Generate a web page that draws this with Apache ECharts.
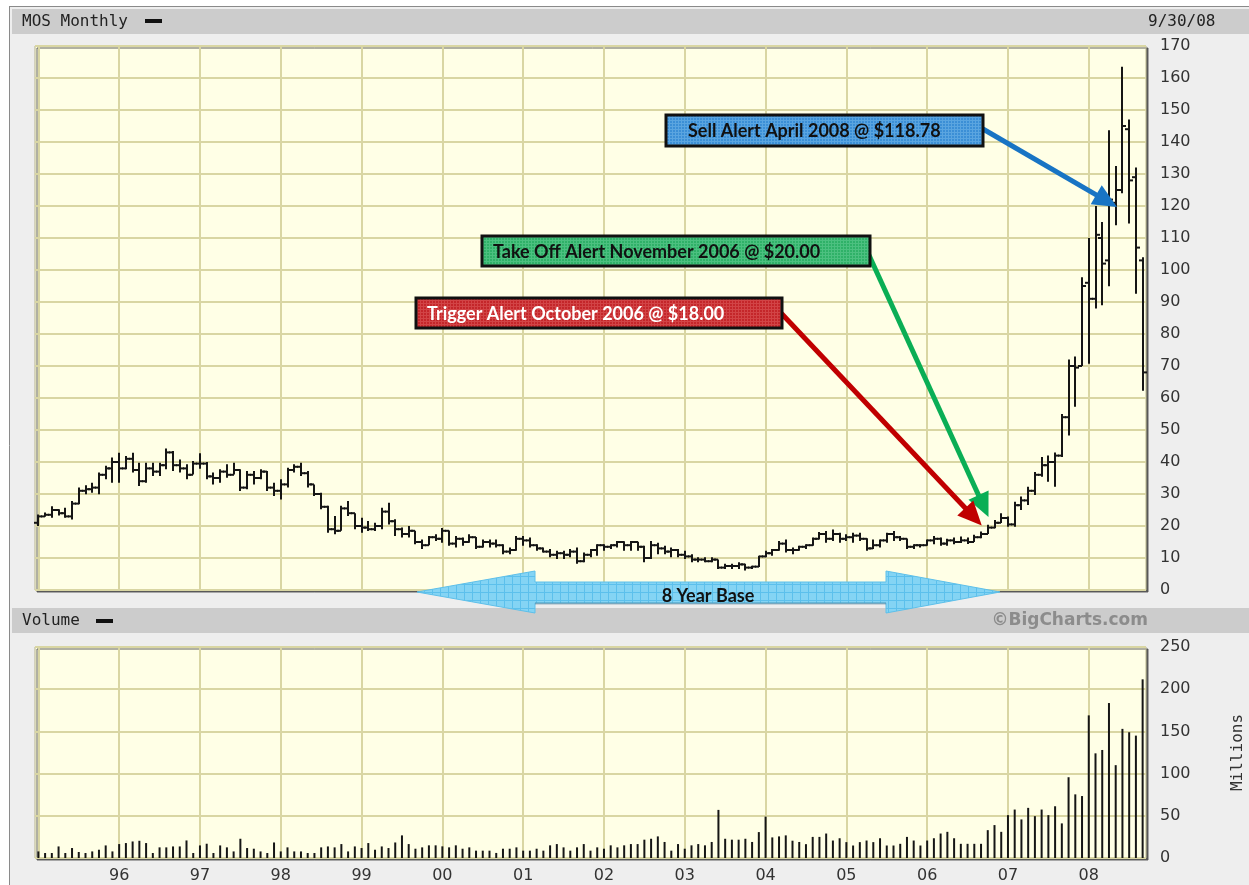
<!DOCTYPE html>
<html>
<head>
<meta charset="utf-8">
<title>MOS Monthly</title>
<script src="https://cdn.jsdelivr.net/npm/echarts@6/dist/echarts.min.js"></script>
<style>
html, body { margin: 0; padding: 0; background: #eeeeee; }
#chart { width: 1249px; height: 885px; }
</style>
</head>
<body>
<div id="chart"></div>
<script>
// month categories, Jan 1995 .. Sep 2008
var months = [];
for (var yr = 1995; yr <= 2008; yr++) {
	for (var mo = 1; mo <= 12; mo++) {
		if (yr === 2008 && mo > 9) break;
		months.push(yr + '-' + (mo < 10 ? '0' + mo : mo));
	}
}

// monthly OHLC, one row per year
var openPrices = [
	21, 23, 23.5, 25, 24, 23, 27, 31, 31.5, 32, 36, 38,
	40, 38, 41, 37.5, 34, 38, 37, 39, 43, 39, 38, 36,
	39.5, 39.5, 35.5, 35, 37, 36, 37.5, 32, 36, 35, 37, 32,
	31, 33, 37.5, 38.5, 36.5, 33, 30, 26, 19, 18.5, 25.5, 24,
	20, 19.5, 19, 20, 24.5, 21.5, 19, 17.5, 18.5, 15, 14, 16.5,
	16, 18.5, 14.5, 16, 15, 16.5, 13.5, 15, 14.5, 14, 12, 12.5,
	16, 15.5, 14, 13, 12, 11, 11.5, 11, 12, 9, 11, 12.5,
	14, 13.5, 14, 15, 14, 15, 13.5, 10, 14, 13, 12, 12.5,
	11, 10.5, 9.5, 9.5, 9, 9.5, 7, 7.5, 7.5, 8, 7, 7.3,
	10.5, 11.5, 12.5, 14.5, 12.5, 12.5, 13.5, 14, 16, 17.5, 16, 17.5,
	16, 16.5, 17, 16, 13, 14, 15.5, 17.5, 16.5, 16, 13.5, 14,
	14, 15.5, 16, 14.5, 15.5, 15, 15.5, 15, 16.5, 17.5, 19.5, 21,
	22.5, 20.5, 26.5, 28, 31, 36, 39, 40, 42, 54, 70, 70,
	96, 91, 110, 103, 121, 125, 144, 129, 103
];
var highPrices = [
	23.6, 24.2, 26.2, 25.2, 25.7, 27.8, 32, 32.7, 33.5, 36.7, 38.8, 41.4,
	42.9, 41.9, 42.9, 39.8, 39.8, 39.8, 39.8, 44.2, 43.4, 40.8, 39.3, 40.3,
	42.7, 40, 36.7, 37.7, 39.3, 39.8, 37.7, 37.2, 37.2, 37.7, 37.2, 33.5,
	34.6, 38.2, 39.3, 39.8, 37.2, 33, 30.4, 26.3, 23.1, 26.3, 27.8, 24,
	22.6, 21.6, 21, 25.7, 27.3, 22.1, 19.5, 20, 18.5, 15.8, 16.9, 17.4,
	19.4, 18.6, 16.9, 16.4, 17.4, 16.6, 15.8, 15.8, 15.8, 14.3, 13.3, 16.9,
	16.9, 16.4, 14.3, 13.3, 12.8, 12.3, 12.3, 12.8, 13.3, 11.7, 12.8, 14.3,
	14.3, 14.3, 15.3, 15.2, 15.3, 15.1, 13.8, 15.3, 14.8, 13.8, 13.3, 12.8,
	12.3, 11.2, 10.2, 10.2, 10.2, 9.5, 8.2, 8.2, 8.7, 8.2, 7.6, 10.7,
	12.3, 12.8, 15.3, 15.8, 13.3, 13.8, 14.3, 16.4, 18.1, 18.4, 18.9, 17.9,
	17.4, 17.9, 17.9, 16.2, 15.8, 15.8, 17.9, 18.4, 16.9, 16.1, 14.3, 14.3,
	15.8, 16.9, 16.4, 16, 16.4, 16.7, 16.4, 17.3, 18.3, 20.4, 21.9, 24,
	23, 27.6, 29.2, 32.3, 36.9, 41.6, 42, 43, 55, 72, 73, 97.7,
	110, 120, 115, 143.7, 132.5, 163.5, 147, 132, 104
];
var lowPrices = [
	20, 22.9, 22.6, 23.3, 22.6, 22, 26.8, 29.9, 30.4, 29.9, 34.6, 33.5,
	33.5, 37.7, 36.7, 32.5, 33.5, 35.6, 35.6, 37.7, 37.2, 36.7, 34.6, 36.1,
	37.9, 34.6, 33, 33.5, 35.1, 36.1, 30.9, 31.5, 33, 34.6, 30.9, 29.4,
	28.3, 32, 36.7, 35.6, 32, 29.4, 25.2, 17.9, 17.4, 18.5, 23.1, 19,
	17.9, 18.4, 18.4, 19, 20.5, 16.9, 16.4, 16.4, 14.3, 12.8, 14, 15.3,
	14.8, 13.8, 13.3, 13.8, 14.8, 12.8, 13.3, 13.3, 13.3, 11.2, 11.2, 12.3,
	13.8, 13.3, 12.3, 11.7, 10.2, 9.7, 9.7, 10.2, 8.2, 8.7, 10.2, 10.7,
	12.3, 12.8, 13.3, 12.3, 12.3, 12.3, 8.7, 9.7, 11.2, 11.2, 10.2, 10.2,
	9.7, 8.7, 8.7, 8.7, 8.7, 6.6, 6.6, 6.6, 6.6, 6.1, 6.6, 7.2,
	10.2, 10.7, 12.3, 11.7, 11.2, 12.3, 12.8, 13.8, 15.8, 14.8, 15.3, 14.8,
	15.3, 14.8, 15.3, 12.3, 12.8, 13.3, 14.8, 15.3, 15.3, 12.8, 12.8, 13.3,
	13.8, 14.3, 13.8, 13.8, 14.3, 14.7, 14.4, 15, 16.2, 17.5, 19.3, 20.9,
	19.8, 19.8, 25, 26.6, 29.7, 35.4, 33.8, 32.3, 41.6, 48.3, 57.3, 70,
	70.7, 88, 89, 94.9, 114, 124, 114.5, 92.6, 62.3
];
var closePrices = [
	23, 23.5, 25, 24, 23, 27, 31, 31.5, 32, 36, 38, 40,
	38, 41, 37.5, 34, 38, 37, 39, 43, 39, 38, 36, 39.5,
	39.5, 35.5, 35, 37, 36, 37.5, 32, 36, 35, 37, 32, 31,
	33, 37.5, 38.5, 36.5, 33, 30, 26, 19, 18.5, 25.5, 24, 20,
	19.5, 19, 20, 24.5, 21.5, 19, 17.5, 18.5, 15, 14, 16.5, 16,
	18.5, 14.5, 16, 15, 16.5, 13.5, 15, 14.5, 14, 12, 12.5, 16,
	15.5, 14, 13, 12, 11, 11.5, 11, 12, 9, 11, 12.5, 14,
	13.5, 14, 15, 14, 15, 13.5, 10, 14, 13, 12, 12.5, 11,
	10.5, 9.5, 9.5, 9, 9.5, 7, 7.5, 7.5, 8, 7, 7.3, 10.5,
	11.5, 12.5, 14.5, 12.5, 12.5, 13.5, 14, 16, 17.5, 16, 17.5, 16,
	16.5, 17, 16, 13, 14, 15.5, 17.5, 16.5, 16, 13.5, 14, 14,
	15.5, 16, 14.5, 15.5, 15, 15.5, 15, 16.5, 17.5, 19.5, 21, 22.5,
	20.5, 26.5, 28, 31, 36, 39, 40, 42, 54, 70, 69.5, 95,
	91, 111, 102, 122, 125, 145, 128, 107, 68
];
// monthly volume, millions
var volumes = [
	7.8, 5.9, 5.9, 13.7, 5.9, 11.8, 7.1, 5.9, 7.8, 9.8, 14.9, 7.8,
	16.5, 17.7, 19.6, 20.4, 17.7, 5.9, 12.6, 12.6, 13.7, 13.7, 20.8, 5.9,
	14.9, 16.9, 5.9, 14.9, 12.6, 7.8, 22.8, 11.8, 11, 7.8, 5.9, 18.4,
	7.8, 12.6, 7.8, 7.8, 5.9, 5.9, 12.6, 13.7, 12.6, 16.5, 7.8, 13.7,
	11.8, 17.7, 9.8, 13.7, 11.8, 18.4, 26.8, 16.5, 11, 12.6, 15, 15,
	13.8, 12.6, 15, 11, 12.6, 8.7, 8.7, 8.7, 6, 11, 11, 12.6,
	8.7, 8.7, 11, 8.7, 15, 16.5, 12.6, 8.7, 12.6, 16.5, 8.7, 12.6,
	11, 15, 12.6, 15, 16.5, 16.5, 21.7, 22.8, 25.6, 19, 8.7, 16.5,
	11, 15, 16.5, 15, 19, 57, 22.8, 21.7, 21.7, 22.8, 19, 30.7,
	49, 24.4, 25.6, 26.8, 20.5, 19, 16.4, 25, 25, 29, 20.7, 23.4,
	18.8, 14.8, 18.8, 20.7, 18.8, 23.4, 14.8, 14.8, 16.8, 25, 20.7, 14.8,
	20.7, 23.4, 29, 31, 23.4, 16.8, 16.8, 16.8, 16.8, 33, 39, 31,
	50.8, 57.4, 45.7, 59.4, 49.6, 57.4, 50.8, 61.3, 41, 95.7, 75.4, 73.4,
	169, 124, 128, 183.6, 110, 153, 149, 145, 211.7
];

var gridColor = '#d9d6a3';
var labelFont = 'DejaVu Sans';
var monoFont = 'DejaVu Sans Mono';

function yearLabel(value, index) {
	return value.slice(2, 4);
}

function isJanuary(index) {
	return index % 12 === 0;
}

function renderBar(params, api) {
	var i = api.value(0);
	var hi = api.coord([i, api.value(2)]);
	var lo = api.coord([i, api.value(3)]);
	var op = api.coord([i, api.value(1)]);
	var cl = api.coord([i, api.value(4)]);
	var x = Math.round(hi[0]);
	var style = { stroke: '#151515', lineWidth: 2 };
	return {
		type: 'group',
		children: [
			{ type: 'line', shape: { x1: x, y1: hi[1], x2: x, y2: lo[1] }, style: style },
			{ type: 'line', shape: { x1: x - 4, y1: op[1], x2: x, y2: op[1] }, style: style },
			{ type: 'line', shape: { x1: x, y1: cl[1], x2: x + 4, y2: cl[1] }, style: style }
		]
	};
}

// small tiled texture like the screen-printed fills
function texture(base, line, step) {
	var c = document.createElement('canvas');
	c.width = step;
	c.height = step;
	var ctx = c.getContext('2d');
	ctx.fillStyle = base;
	ctx.fillRect(0, 0, step, step);
	ctx.fillStyle = line;
	ctx.fillRect(0, 0, step, 1);
	ctx.fillRect(0, 0, 1, step);
	return { image: c, repeat: 'repeat' };
}

var ohlc = months.map(function (m, i) {
	return [i, openPrices[i], highPrices[i], lowPrices[i], closePrices[i]];
});

var chart = echarts.init(document.getElementById('chart'));

var panelGrid = {
	show: true,
	left: 35,
	right: 103,
	outerBoundsMode: 'none',
	containLabel: false,
	backgroundColor: '#ffffe6',
	borderColor: '#b8b58c',
	borderWidth: 1,
	shadowColor: 'rgba(80,80,80,0.9)',
	shadowOffsetX: 2,
	shadowOffsetY: 2
};

chart.setOption({
	backgroundColor: '#eeeeee',
	animation: false,
	grid: [
		Object.assign({ top: 46, height: 544 }, panelGrid),
		Object.assign({ top: 647, height: 211 }, panelGrid)
	],
	xAxis: [{
		gridIndex: 0,
		type: 'category',
		data: months,
		boundaryGap: true,
		axisLine: { show: false },
		axisTick: { show: false },
		axisLabel: { show: false },
		splitLine: {
			show: true,
			interval: isJanuary,
			alignWithLabel: true,
			lineStyle: { color: gridColor, width: 2 }
		}
	}, {
		gridIndex: 1,
		type: 'category',
		data: months,
		boundaryGap: true,
		axisLine: { show: false },
		axisTick: { show: false },
		axisLabel: {
			interval: function (index) { return index % 12 === 0 && index > 0; },
			formatter: yearLabel,
			margin: 10,
			fontFamily: labelFont,
			fontSize: 16,
			color: '#333'
		},
		splitLine: {
			show: true,
			interval: isJanuary,
			alignWithLabel: true,
			lineStyle: { color: gridColor, width: 2 }
		}
	}],
	yAxis: [{
		gridIndex: 0,
		type: 'value',
		position: 'right',
		min: 0,
		max: 170,
		interval: 10,
		axisLine: { show: false },
		axisTick: { show: false },
		axisLabel: { margin: 14, fontFamily: labelFont, fontSize: 16, color: '#333' },
		splitLine: { lineStyle: { color: gridColor, width: 2 } }
	}, {
		gridIndex: 1,
		type: 'value',
		position: 'right',
		min: 0,
		max: 250,
		interval: 50,
		name: 'Millions',
		nameLocation: 'middle',
		nameGap: 84,
		nameRotate: 90,
		nameTextStyle: { fontFamily: monoFont, fontSize: 16, color: '#333' },
		axisLine: { show: false },
		axisTick: { show: false },
		axisLabel: { margin: 14, fontFamily: labelFont, fontSize: 16, color: '#333' },
		splitLine: { lineStyle: { color: gridColor, width: 2 } }
	}],
	series: [{
		type: 'custom',
		name: 'MOS',
		xAxisIndex: 0,
		yAxisIndex: 0,
		renderItem: renderBar,
		encode: { x: 0, y: [1, 2, 3, 4] },
		data: ohlc,
		z: 5
	}, {
		type: 'bar',
		name: 'Volume',
		xAxisIndex: 1,
		yAxisIndex: 1,
		barWidth: 2,
		itemStyle: { color: '#151515' },
		data: volumes,
		z: 5
	}]
});

// annotation helpers
function arrow(from, tip, color) {
	var dx = tip[0] - from[0], dy = tip[1] - from[1];
	var len = Math.sqrt(dx * dx + dy * dy);
	var ux = dx / len, uy = dy / len;
	var headLen = 24, headHalf = 11;
	var bx = tip[0] - ux * headLen, by = tip[1] - uy * headLen;
	return [{
		type: 'line',
		z: 100,
		shape: { x1: from[0], y1: from[1], x2: bx + ux * 2, y2: by + uy * 2 },
		style: { stroke: color, lineWidth: 5 }
	}, {
		type: 'polygon',
		z: 100,
		shape: { points: [tip, [bx - uy * headHalf, by + ux * headHalf], [bx + uy * headHalf, by - ux * headHalf]] },
		style: { fill: color }
	}];
}

function alertBox(x, y, w, h, fill, text, textColor, pad) {
	return [{
		type: 'rect',
		z: 100,
		shape: { x: x, y: y, width: w, height: h },
		style: { fill: fill, stroke: '#111', lineWidth: 3 }
	}, {
		type: 'text',
		z: 101,
		x: x + pad,
		y: y + h / 2 + 1,
		style: {
			text: text,
			fill: textColor,
			font: 'bold 18px Lato',
			verticalAlign: 'middle'
		}
	}];
}

function tipAt(idx, price, ox, oy) {
	var p = chart.convertToPixel({ gridIndex: 0 }, [idx, price]);
	return [p[0] + ox, p[1] + oy];
}

var g = [];
// frame and header strips
g.push({ type: 'rect', z: 1, shape: { x: 0, y: 0, width: 1249, height: 6 }, style: { fill: '#ffffff' } });
g.push({ type: 'rect', z: 1, shape: { x: 0, y: 0, width: 9, height: 885 }, style: { fill: '#ffffff' } });
g.push({ type: 'line', z: 1, shape: { x1: 9.5, y1: 6, x2: 9.5, y2: 885 }, style: { stroke: '#8a8a8a', lineWidth: 1 } });
g.push({ type: 'line', z: 1, shape: { x1: 9, y1: 6.5, x2: 1249, y2: 6.5 }, style: { stroke: '#8a8a8a', lineWidth: 1 } });
g.push({ type: 'rect', z: 1, shape: { x: 12, y: 9, width: 1237, height: 25 }, style: { fill: '#cccccc' } });
g.push({ type: 'rect', z: 1, shape: { x: 12, y: 608, width: 1237, height: 25 }, style: { fill: '#cccccc' } });
g.push({ type: 'text', z: 2, x: 22, y: 22, style: { text: 'MOS Monthly', font: '16px "DejaVu Sans Mono"', fill: '#222', verticalAlign: 'middle' } });
g.push({ type: 'rect', z: 2, shape: { x: 145, y: 19, width: 17, height: 4 }, style: { fill: '#111' } });
g.push({ type: 'text', z: 2, x: 1148, y: 22, style: { text: '9/30/08', font: '16px "DejaVu Sans Mono"', fill: '#222', verticalAlign: 'middle' } });
g.push({ type: 'text', z: 2, x: 22, y: 621, style: { text: 'Volume', font: '16px "DejaVu Sans Mono"', fill: '#222', verticalAlign: 'middle' } });
g.push({ type: 'rect', z: 2, shape: { x: 96, y: 619, width: 17, height: 4 }, style: { fill: '#111' } });
g.push({ type: 'text', z: 2, x: 1148, y: 621, style: { text: '\u00a9BigCharts.com', font: 'bold 17px "DejaVu Sans"', fill: '#8c8c8c', align: 'right', verticalAlign: 'middle' } });

// 8 year base double arrow
g.push({
	type: 'polygon',
	z: 90,
	shape: { points: [[417, 592], [535, 571], [535, 582], [886, 582], [886, 571], [1000, 592], [886, 613], [886, 603], [535, 603], [535, 613]] },
	style: { fill: texture('#84d4f4', '#5cc0ec', 8), stroke: '#5ec0ea', lineWidth: 1 }
});
g.push({ type: 'line', z: 90, shape: { x1: 535, y1: 603.5, x2: 886, y2: 603.5 }, style: { stroke: 'rgba(60,110,140,0.45)', lineWidth: 2 } });
g.push({ type: 'text', z: 91, x: 708, y: 596, style: { text: '8 Year Base', font: 'bold 18px Lato', fill: '#111', align: 'center', verticalAlign: 'middle' } });

// alert boxes and arrows
g = g.concat(arrow([983, 129], tipAt(159, 118.78, 8, -3), '#1874c4'));
g = g.concat(arrow([868, 253], tipAt(142, 20, -6, -9), '#0aae55'));
g = g.concat(arrow([781, 313], tipAt(141, 18, -6, -7), '#c00000'));
g = g.concat(alertBox(666, 115, 317, 31, texture('#3b8fd6', '#5aa5e0', 3), 'Sell Alert April 2008 @ $118.78', '#111', 22));
g = g.concat(alertBox(482, 236, 388, 30, texture('#2fb168', '#4cc080', 3), 'Take Off Alert November 2006 @ $20.00', '#111', 11));
g = g.concat(alertBox(416, 298, 366, 30, texture('#c4262a', '#d24446', 3), 'Trigger Alert October 2006 @ $18.00', '#ffffff', 11));

chart.setOption({ graphic: g });
</script>
</body>
</html>
